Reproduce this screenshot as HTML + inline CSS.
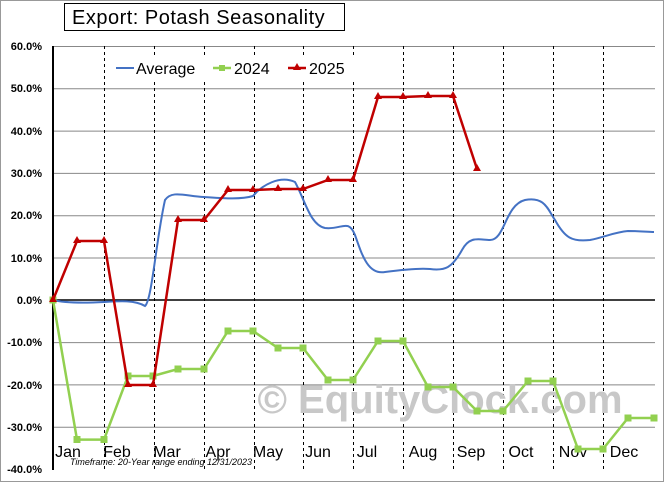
<!DOCTYPE html>
<html><head><style>
body{margin:0;background:#fff}
svg{display:block;font-family:"Liberation Sans",sans-serif}
</style></head><body>
<svg width="664" height="482" viewBox="0 0 664 482">
<rect x="0.5" y="0.5" width="663" height="481" fill="#fff" stroke="#999"/>
<g stroke="#888" stroke-width="1">
<line x1="53" x2="655" y1="46.5" y2="46.5"/>
<line x1="53" x2="655" y1="88.8" y2="88.8"/>
<line x1="53" x2="655" y1="131.1" y2="131.1"/>
<line x1="53" x2="655" y1="173.4" y2="173.4"/>
<line x1="53" x2="655" y1="215.7" y2="215.7"/>
<line x1="53" x2="655" y1="258" y2="258"/>
<line x1="53" x2="655" y1="342.6" y2="342.6"/>
<line x1="53" x2="655" y1="384.9" y2="384.9"/>
<line x1="53" x2="655" y1="427.2" y2="427.2"/>
</g>
<g stroke="#000" stroke-dasharray="3,3" stroke-width="1">
<line x1="104.5" x2="104.5" y1="46" y2="469"/><line x1="154.5" x2="154.5" y1="46" y2="469"/>
<line x1="204.5" x2="204.5" y1="46" y2="469"/><line x1="254.5" x2="254.5" y1="46" y2="469"/>
<line x1="303.5" x2="303.5" y1="46" y2="469"/><line x1="353.5" x2="353.5" y1="46" y2="469"/>
<line x1="403.5" x2="403.5" y1="46" y2="469"/><line x1="453.5" x2="453.5" y1="46" y2="469"/>
<line x1="503.5" x2="503.5" y1="46" y2="469"/><line x1="553.5" x2="553.5" y1="46" y2="469"/>
<line x1="603.5" x2="603.5" y1="46" y2="469"/>
</g>
<text x="440" y="413" font-size="40" font-weight="bold" fill="#c8c8c8" text-anchor="middle">© EquityClock.com</text>
<line x1="53" x2="655" y1="300" y2="300" stroke="#000" stroke-width="1.5"/>
<line x1="53" x2="53" y1="46" y2="470" stroke="#000" stroke-width="2"/>
<g font-size="11" font-weight="bold" text-anchor="end" fill="#000">
<text x="42" y="50">60.0%</text><text x="42" y="92">50.0%</text><text x="42" y="135">40.0%</text>
<text x="42" y="177">30.0%</text><text x="42" y="219">20.0%</text><text x="42" y="262">10.0%</text>
<text x="42" y="304">0.0%</text><text x="42" y="346">-10.0%</text><text x="42" y="389">-20.0%</text>
<text x="42" y="431">-30.0%</text><text x="42" y="473">-40.0%</text>
</g>
<g font-size="16" fill="#000" text-anchor="middle">
<text x="68" y="457">Jan</text><text x="117" y="457">Feb</text><text x="167" y="457">Mar</text>
<text x="218" y="457">Apr</text><text x="268" y="457">May</text><text x="318" y="457">Jun</text>
<text x="367" y="457">Jul</text><text x="423" y="457">Aug</text><text x="471" y="457">Sep</text>
<text x="521" y="457">Oct</text><text x="573" y="457">Nov</text><text x="624" y="457">Dec</text>
</g>
<text x="70" y="465" font-size="9" font-style="italic" fill="#000">Timeframe: 20-Year range ending 12/31/2023</text>
<path d="M53,300 C65,303 85,303 104,302 C120,301 135,300 145,306 C152,300 156,240 165,200 C172,190 185,196 204,197 C220,198 240,200 253,196 C262,185 280,175 295,182 C305,200 310,225 325,228 C342,230 348,218 355,235 C362,255 368,275 385,272 C400,270 420,268 430,269 C445,271 452,268 462,250 C470,235 480,240 490,240 C505,240 505,205 525,200 C545,196 548,210 555,220 C565,238 572,242 590,240 C605,237 615,232 628,231 C640,231 648,232 654,232" fill="none" stroke="#4472c4" stroke-width="2"/>
<polyline fill="none" stroke="#92d050" stroke-width="2.5" points="53,300 77,439.6 104,439.6 128,376 153,376 178,369 204,369 228,331 253,331 278,348 303,348 328,380 353,380 378,341 403,341 428,387 453,387 477,411 503,411 528,381 553,381 578,449 603,449 628,418 654,418"/>
<g fill="#92d050">
<rect x="49.5" y="296.5" width="7" height="7"/><rect x="73.5" y="436" width="7" height="7"/><rect x="100.5" y="436" width="7" height="7"/><rect x="124.5" y="372.5" width="7" height="7"/><rect x="149.5" y="372.5" width="7" height="7"/><rect x="174.5" y="365.5" width="7" height="7"/><rect x="200.5" y="365.5" width="7" height="7"/><rect x="224.5" y="327.5" width="7" height="7"/><rect x="249.5" y="327.5" width="7" height="7"/><rect x="274.5" y="344.5" width="7" height="7"/><rect x="299.5" y="344.5" width="7" height="7"/><rect x="324.5" y="376.5" width="7" height="7"/><rect x="349.5" y="376.5" width="7" height="7"/><rect x="374.5" y="337.5" width="7" height="7"/><rect x="399.5" y="337.5" width="7" height="7"/><rect x="424.5" y="383.5" width="7" height="7"/><rect x="449.5" y="383.5" width="7" height="7"/><rect x="473.5" y="407.5" width="7" height="7"/><rect x="499.5" y="407.5" width="7" height="7"/><rect x="524.5" y="377.5" width="7" height="7"/><rect x="549.5" y="377.5" width="7" height="7"/><rect x="574.5" y="445.5" width="7" height="7"/><rect x="599.5" y="445.5" width="7" height="7"/><rect x="624.5" y="414.5" width="7" height="7"/><rect x="650.5" y="414.5" width="7" height="7"/>
</g>
<polyline fill="none" stroke="#c00000" stroke-width="2.5" points="53,300 77,241 104,241 128,385 153,385 178,220 204,220 228,190 253,190 278,189 303,189 328,180 353,180 378,97 403,97 428,96 453,96 477,169"/>
<g fill="#c00000">
<path d="M53,295l4,7h-8z"/><path d="M77,236l4,7h-8z"/><path d="M104,236l4,7h-8z"/><path d="M128,380l4,7h-8z"/><path d="M153,380l4,7h-8z"/><path d="M178,215l4,7h-8z"/><path d="M204,215l4,7h-8z"/><path d="M228,185l4,7h-8z"/><path d="M253,185l4,7h-8z"/><path d="M278,184l4,7h-8z"/><path d="M303,184l4,7h-8z"/><path d="M328,175l4,7h-8z"/><path d="M353,175l4,7h-8z"/><path d="M378,92l4,7h-8z"/><path d="M403,92l4,7h-8z"/><path d="M428,91l4,7h-8z"/><path d="M453,91l4,7h-8z"/><path d="M477,164l4,7h-8z"/>
</g>
<rect x="64.5" y="3.5" width="280" height="27" fill="#fff" stroke="#000"/>
<text x="72" y="24" font-size="20" fill="#000" letter-spacing="0.5">Export:  Potash  Seasonality</text>
<rect x="110" y="56" width="250" height="24" fill="#fff"/>
<line x1="116" x2="134" y1="68" y2="68" stroke="#4472c4" stroke-width="2"/>
<text x="136" y="74" font-size="16">Average</text>
<line x1="213" x2="231" y1="68" y2="68" stroke="#92d050" stroke-width="2.5"/>
<rect x="219" y="65" width="6" height="6" fill="#92d050"/>
<text x="234" y="74" font-size="16">2024</text>
<line x1="288" x2="306" y1="68" y2="68" stroke="#c00000" stroke-width="2.5"/>
<path d="M297,63l4,7h-8z" fill="#c00000"/>
<text x="309" y="74" font-size="16">2025</text>
</svg>
</body></html>
